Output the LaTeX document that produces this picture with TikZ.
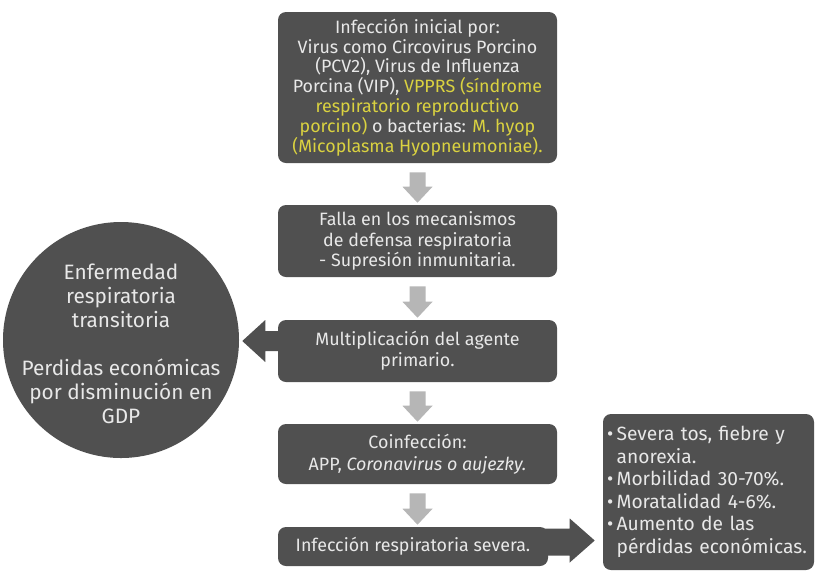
\documentclass[tikz,border=0pt]{standalone}
\usepackage{fontspec}
\setmainfont{Fira Sans}
\usetikzlibrary{calc}
\definecolor{boxc}{RGB}{80,80,80}
\definecolor{arrc}{RGB}{182,182,182}
\definecolor{txtc}{RGB}{232,232,232}
\definecolor{yel}{RGB}{218,210,64}
\newcommand{\downarr}[2]{%
  \path let \p1=($(#1.south)+(0,9)$), \p2=($(#2.north)+(0,-2)$) in
    [fill=arrc] (\x1-6pt,\y1) -- (\x1+6pt,\y1) -- (\x1+6pt,\y2+12pt) -- (\x1+11.25pt,\y2+12pt)
    -- (\x1,\y2) -- (\x1-11.25pt,\y2+12pt) -- (\x1-6pt,\y2+12pt) -- cycle;}
\begin{document}
\begin{tikzpicture}[x=0.75pt,y=-0.75pt,
  box/.style={fill=boxc, rounded corners=6pt, text=txtc, align=center, inner sep=0pt,
    font=\fontsize{13.4}{14.9}\selectfont},
  bigarrow/.style={fill=boxc}]
\useasboundingbox (0,0) rectangle (816,572);
\node[box, minimum width=209.25pt, minimum height=113.25pt] (b1) at (417.5,87.5)
  {Infección inicial por:\\
   Virus como Circovirus Porcino\\
   (PCV2), Virus de Influenza\\
   Porcina (VIP), \textcolor{yel}{VPPRS (síndrome}\\
   \textcolor{yel}{respiratorio reproductivo}\\
   \textcolor{yel}{porcino)} o bacterias: \textcolor{yel}{M. hyop}\\
   \textcolor{yel}{(Micoplasma Hyopneumoniae).}};
\node[box, minimum width=209.25pt, minimum height=54pt, font=\fontsize{13.4}{15.5}\selectfont] (b2) at (417.5,241)
  {Falla en los mecanismos\\de defensa respiratoria\\- Supresión inmunitaria.};
\node[box, minimum width=209.25pt, minimum height=46.5pt, font=\fontsize{13.4}{15.5}\selectfont] (b3) at (417.5,351)
  {Multiplicación del agente\\primario.};
\node[box, minimum width=209.25pt, minimum height=45pt, font=\fontsize{13.4}{16.5}\selectfont] (b4) at (417.5,454)
  {Coinfección:\\APP, \textit{Coronavirus o aujezky.}};
\node[box, minimum width=202.5pt, minimum height=29.25pt] (b5) at (413,546.5)
  {Infección respiratoria severa.};
\node[box, minimum width=158.25pt, minimum height=117pt, text width=152pt, align=left,
  font=\fontsize{14.4}{16.9}\selectfont] (b6) at (708.5,492)
  {•\,Severa tos, fiebre y\\
   \hphantom{•\,}anorexia.\\
   •\,Morbilidad 30-70\%.\\
   •\,Moratalidad 4-6\%.\\
   •\,Aumento de las\\
   \hphantom{•\,}pérdidas económicas.};
\node[circle, fill=boxc, minimum size=177pt, inner sep=0pt] (c) at (121,340) {};
\node[text=txtc, align=center, inner sep=0pt, font=\fontsize{15.6}{18}\selectfont] (ct)
  at ($(c.center)+(0,4)$)
  {Enfermedad\\respiratoria\\transitoria\\[18pt]Perdidas económicas\\por disminución en\\GDP};
\downarr{b1}{b2}
\downarr{b2}{b3}
\downarr{b3}{b4}
\downarr{b4}{b5}
% left block arrow from b3 to circle
\path let \p1=(b3.west), \p2=(c.east) in
  [bigarrow] (\x1+6pt,\y2-8.25pt) -- (\x2+19.5pt,\y2-8.25pt) -- (\x2+19.5pt,\y2-16.5pt)
  -- (\x2+2.25pt,\y2-0.75pt) -- (\x2+19.5pt,\y2+15pt) -- (\x2+19.5pt,\y2+6.75pt)
  -- (\x1+6pt,\y2+6.75pt) -- cycle;
% right block arrow from b5 to b6
\path let \p1=(b5.east), \p2=(b6.west) in
  [bigarrow] (\x1-8pt,\y1+13.5pt) -- (\x2-24.75pt,\y1+13.5pt) -- (\x2-24.75pt,\y1+21pt)
  -- (\x2-6pt,\y1+4.5pt) -- (\x2-24.75pt,\y1-12pt) -- (\x2-24.75pt,\y1-6.75pt)
  -- (\x1-8pt,\y1-6.75pt) -- cycle;
\end{tikzpicture}
\end{document}
